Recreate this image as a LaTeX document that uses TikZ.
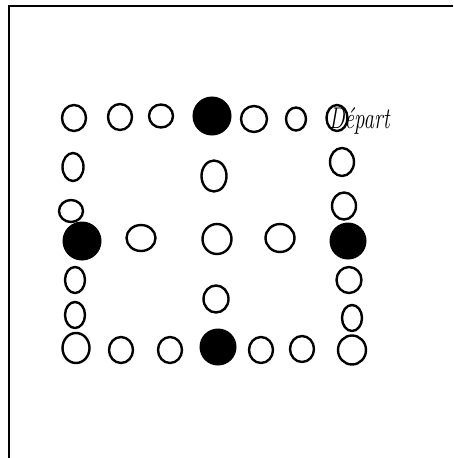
\documentclass[tikz,border=0pt]{standalone}
\usepackage{tikz}
\usetikzlibrary{shapes.geometric}

\begin{document}
\begin{tikzpicture}[
  x=1pt, y=-1pt,
  pion/.style={draw, ellipse, line width=2.4pt, minimum width=24pt, minimum height=26pt, inner sep=0pt},
  plein/.style={draw, circle, fill=black, line width=1pt, minimum size=36pt, inner sep=0pt},
  marque/.style={font=\fontsize{30}{32}\selectfont\itshape, inner sep=0pt},
]
\useasboundingbox (0,0) rectangle (453,458);
\draw[line width=1.4pt] (453,6) -- (9,6) -- (9,458);

% rangee du haut
\node[pion] (t1) at (74,118) {};
\node[pion] (t2) at (120,117) {};
\node[pion, minimum height=23pt] (t3) at (161,116) {};
\node[plein, minimum width=38pt] (t4) at (212,116) {};
\node[pion, minimum width=26pt] (t5) at (254,119) {};
\node[pion, minimum width=20pt, minimum height=23pt] (t6) at (296,119) {};
\node[pion, minimum width=21pt, minimum height=26pt] (dep) at (337,118) {};
\node[marque, anchor=base west] (deptxt) at (329,128) {\scalebox{0.7}[1]{Départ}};

% colonne de gauche
\node[pion, minimum width=21pt, minimum height=28pt] (l1) at (73,167) {};
\node[pion, minimum height=22pt] (l2) at (71,211) {};
\node[plein, minimum size=38pt] (l3) at (82,241) {};
\node[pion, minimum width=20pt] (l4) at (75,280) {};
\node[pion, minimum width=20pt] (l5) at (75,315) {};
\node[pion, minimum width=27pt, minimum height=30pt] (b1) at (76,348) {};

% rangee du bas
\node[pion] (b2) at (121,350) {};
\node[pion] (b3) at (170,350) {};
\node[plein] (b4) at (218,347) {};
\node[pion] (b5) at (261,350) {};
\node[pion] (b6) at (302,349) {};
\node[pion, minimum width=28pt, minimum height=29pt] (b7) at (352,350) {};

% colonne de droite
\node[pion, minimum height=28pt] (r1) at (342,162) {};
\node[pion, minimum height=27pt] (r2) at (344,206) {};
\node[plein] (r3) at (348,241) {};
\node[pion, minimum width=25pt] (r4) at (349,280) {};
\node[pion, minimum width=20pt] (r5) at (352,318) {};

% croix du milieu
\node[pion, minimum width=25pt, minimum height=31pt] (m1) at (214,176) {};
\node[pion, minimum width=29pt] (m2) at (141,238) {};
\node[pion, minimum width=29pt, minimum height=30pt] (m3) at (217,239) {};
\node[pion, minimum width=29pt, minimum height=28pt] (m4) at (280,238) {};
\node[pion, minimum width=25pt, minimum height=27pt] (m5) at (216,299) {};
\end{tikzpicture}
\end{document}
